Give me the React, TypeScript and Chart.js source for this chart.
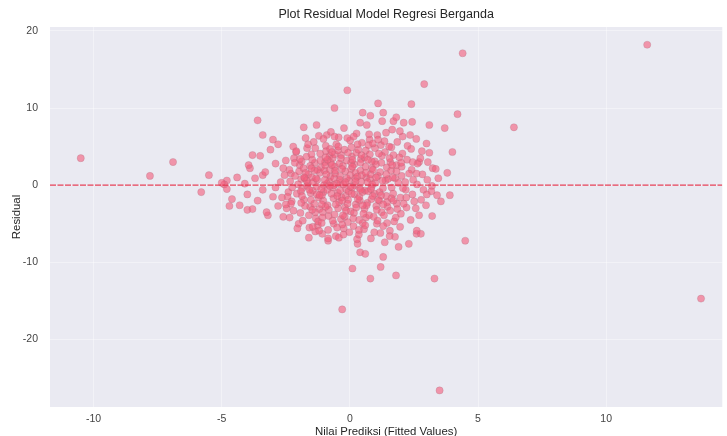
import { useEffect, useRef } from 'react';
import { Chart, registerables } from 'chart.js';

Chart.register(...registerables);

const chartTitle = 'Plot Residual Model Regresi Berganda';
const xAxisTitle = 'Nilai Prediksi (Fitted Values)';
const yAxisTitle = 'Residual';
const xTickValues = [-10, -5, 0, 5, 10];
const yTickValues = [-20, -10, 0, 10, 20];
const xRange = [-11.7, 14.53];
const yRange = [-28.75, 20.5];
const referenceLevel = 0;

const fittedValues: number[] = [
  -10.5, -7.8, -6.9, -5.8, -5.5, -4.8, -4.7, 11.6, 13.7, 6.4,
  4.4, 4.5, 3.3, 3.5, -0.3, 2.9, -0.1, 4.2, -3.6, 2.4,
  1.1, -0.6, -1.8, -1.3, 3.7, 3.1, 3.1, 4.0, 3.8, 3.2,
  3.4, 3.9, 2.7, 0.4, 0.1, 1.2, 0.8, 1.8, 1.9, 2.3,
  0.6, 1.3, 2.6, -3.4, -0.9, -3.8, -3.9, -3.4, -4.9, 1.3,
  0.5, 0.4, 1.7, 2.1, 2.7, -4.0, -3.2, -0.85, 0.3, -1.6,
  -5.0, -4.8, -4.6, -4.4, -4.3, -4.1, -4.0, -3.95, -3.8, -3.7,
  -3.6, -3.5, -3.4, -3.3, -3.25, -3.1, -3.0, -2.9, -2.8, -2.7,
  -3.0, -2.8, -2.6, -2.5, -2.4, -2.3, -2.2, -2.1, -2.0, -1.9,
  -2.43, -2.36, -2.47, -2.33, -2.18, -2.25, -2.14, -2.27, -2.21, -1.96,
  -2.07, -2.02, -1.93, -2.09, -1.98, -1.84, -1.76, -1.88, -1.79, -1.73,
  -1.86, -1.81, -1.62, -1.55, -1.67, -1.58, -1.64, -1.53, -1.69, -1.60,
  -1.37, -1.45, -1.41, -1.33, -1.48, -1.39, -1.43, -1.35, -1.47, -1.22,
  -1.16, -1.27, -1.19, -1.13, -1.25, -1.21, -1.29, -1.17, -1.24, -0.97,
  -1.04, -1.01, -0.94, -1.08, -0.99, -1.06, -0.93, -1.03, -0.96, -1.09,
  -0.83, -0.76, -0.79, -0.87, -0.81, -0.74, -0.85, -0.78, -0.88, -0.77,
  -0.82, -0.58, -0.64, -0.61, -0.55, -0.67, -0.60, -0.53, -0.66, -0.57,
  -0.63, -0.59, -0.42, -0.37, -0.44, -0.35, -0.41, -0.47, -0.38, -0.43,
  -0.34, -0.46, -0.39, -0.18, -0.24, -0.21, -0.15, -0.27, -0.19, -0.23,
  -0.16, -0.26, -0.20, -0.13, 0.03, -0.04, 0.01, -0.07, 0.05, -0.02,
  0.08, -0.05, 0.02, -0.08, 0.06, 0.17, 0.23, 0.19, 0.26, 0.14,
  0.22, 0.18, 0.25, 0.16, 0.21, 0.28, 0.38, 0.43, 0.36, 0.41,
  0.47, 0.39, 0.44, 0.35, 0.42, 0.37, 0.62, 0.57, 0.64, 0.59,
  0.66, 0.55, 0.61, 0.68, 0.58, 0.63, 0.79, 0.84, 0.77, 0.82,
  0.86, 0.75, 0.81, 0.78, 0.85, 0.80, 1.03, 0.97, 1.05, 0.99,
  1.07, 0.96, 1.02, 1.08, 0.98, 1.18, 1.24, 1.21, 1.16, 1.26,
  1.19, 1.23, 1.15, 1.42, 1.37, 1.45, 1.39, 1.44, 1.36, 1.41,
  1.47, 1.58, 1.63, 1.56, 1.61, 1.65, 1.57, 1.62, 1.83, 1.77,
  1.85, 1.79, 1.82, 1.76, 1.81, 2.02, 1.97, 2.05, 1.99, 2.06,
  1.96, 2.18, 2.23, 2.21, 2.16, 2.25, 2.41, 2.37, 2.44, 2.39,
  2.43, 2.62, 2.57, 2.64, 2.59, 2.61, 2.78, 2.83, 2.81, 2.77,
  3.02, 2.97, 3.04, 2.99, 3.18, 3.23, 3.21, 3.35, 3.55, 3.45,
  -1.91, -1.72, -1.52, -1.32, -1.12, -0.92, -0.72, -0.52, -0.32, -0.12,
  0.09, 0.29, 0.49, 0.69, 0.89, 1.09, 1.29, 1.49, 1.69, 1.89,
  -1.95, -1.75, -1.55, -1.35, -1.15, -0.95, -0.75, -0.55, -0.35, -0.15,
  0.05, 0.25, 0.45, 0.65, 0.85, 1.05, 1.25, 1.45, 1.65, 1.85,
  -1.87, -1.67, -1.47, -1.27, -1.07, -0.87, -0.67, -0.47, -0.27, -0.07,
  0.13, 0.33, 0.53, 0.73, 0.93, 1.13, 1.33, 1.53, 1.73, 1.93,
  -2.55, -2.65, -2.35, -2.05, -1.45, -0.85, -0.25, 0.35, 0.95, 1.55,
  -2.15, -1.63, -1.03, -0.45, 0.15, 0.75, 1.35, 1.95, 2.35, 2.75,
  -0.09, 0.31, 0.71, 1.11, -0.49, -0.89, -1.29, -1.69, 2.31, 2.51,
  -0.63, -0.31, 0.07, 0.47, 0.87, 1.27, 1.67, 2.07, 2.47, 2.87,
  -1.78, -1.58, -1.38, -1.18, -0.98, -0.78, -0.58, -0.38, -0.18, 0.02,
  0.22, 0.42, 0.62, 0.82, 1.02, 1.22, 1.42, 1.62, 1.82, 2.02,
  -1.5, -1.1, -0.7, -0.3, 0.1, 0.5, 0.9, 1.3, 1.7, 2.1,
  -2.6, -2.3, -1.9, -1.5, -1.1, -0.7, -0.3, 0.1, 0.5, 0.9,
  1.3, 1.7, 2.2, 2.6, 3.0, -2.9, -2.5, -1.2, -0.5, 0.6,
  -1.35, -0.95, -0.6, -0.1, 0.3, 0.7, 1.1, 1.55, 2.0, 2.45,
];

const residuals: number[] = [
  3.5, 1.2, 3.0, -0.9, 1.3, 0.6, -2.7, 18.2, -14.7, 7.5,
  17.1, -7.2, -12.1, -26.6, -16.1, 13.1, 12.3, 9.2, 8.4, 10.5,
  10.6, 10.0, 7.5, 7.8, 7.4, 7.8, 4.2, 4.3, 1.6, -0.1,
  -1.3, -1.3, -3.9, -8.7, -10.8, -10.6, -12.1, -11.7, -8.0, -7.6,
  -8.9, -9.3, -6.3, 6.5, 6.5, 3.9, 2.2, 1.3, 0.1, 9.4,
  9.4, 8.1, 8.3, 8.1, 3.0, -3.2, -3.9, -7.2, -7.6, -6.8,
  0.3, -0.5, -1.8, 1.0, -2.6, 0.2, -1.2, 2.6, -3.1, 0.9,
  -2.0, 3.8, -0.6, 1.7, -3.5, 4.6, -1.5, 2.8, -2.7, 0.4,
  5.9, 5.3, -4.1, 3.2, -0.9, 1.5, -3.3, 4.3, -5.0, 0.8,
  -1.5, 2.0, -3.0, 0.5, 3.5, -0.3, 1.2, -2.1, 5.0, 2.6,
  -1.1, 0.1, -3.6, 4.4, 1.8, -4.6, 0.9, 3.1, -1.9, 6.1,
  -0.4, 2.2, 1.4, -2.8, 4.8, -5.5, 0.2, -1.0, 3.7, -3.9,
  2.9, -0.7, 5.6, -4.3, 1.0, -2.4, 0.4, -6.0, 3.3, -1.6,
  4.1, 0.7, -3.1, 2.3, -5.2, 6.4, -0.2, 1.6, -4.7, 3.0,
  -2.0, 0.0, 5.1, -6.3, 1.9, -3.5, 4.4, -0.9, 2.6, -1.3,
  -4.0, 1.1, 3.8, -2.6, 0.5, 6.9, -5.8, 2.0, -0.6, 4.7,
  -3.2, 2.4, -1.7, 0.9, -6.6, 3.5, -3.8, 5.3, -0.3, 1.5,
  -5.0, 4.0, -2.2, 0.3, 6.2, -4.4, 2.8, -1.0, 1.2, -6.8,
  3.9, -3.0, 0.7, 1.8, -5.6, 4.6, -0.5, 2.5, -2.9, 7.4,
  -1.4, 0.1, -4.1, 3.2, -3.4, 0.6, 5.8, -1.9, 2.1, -6.1,
  3.7, -0.8, 1.3, -4.8, 4.9, 2.7, -2.5, 0.0, 6.7, -5.3,
  1.6, -1.2, 4.2, -3.6, 0.9, -7.0, -0.4, 3.4, -4.5, 1.9,
  5.5, -2.0, 0.5, -6.4, 2.9, -1.5, 4.5, -3.1, 1.0, -0.7,
  7.8, -5.7, 2.4, -2.3, 3.6, -4.2, 0.8, -1.8, 5.9, -6.9,
  2.2, -3.9, 1.4, 4.0, -0.2, 9.0, -2.7, 3.1, -5.0, 0.3,
  6.5, -1.1, 2.7, -4.6, 4.8, 1.7, -3.5, 5.2, -0.9, 8.3,
  -6.2, 2.9, -2.0, -1.4, 4.3, -4.9, 0.6, 2.3, -7.4, 6.8,
  -2.8, 3.0, -0.3, -5.9, 1.9, 7.2, -3.3, 4.9, -2.4, 0.9,
  5.6, -4.2, 2.6, -6.7, 8.8, 1.2, -1.6, 4.1, -3.7, 6.3,
  -5.4, -0.6, 3.3, -2.9, 0.4, 5.1, 2.0, -4.5, -1.2, 4.7,
  8.2, 0.1, -3.0, 2.8, 6.0, -5.9, -1.9, 1.4, 4.4, -6.3,
  0.7, -2.6, 3.0, 5.4, -0.8, 2.2, -4.0, 2.1, -2.1, 0.9,
  -0.8, 1.6, -1.9, 0.9, -0.5, 1.4, -1.1, 0.2, -1.6, 0.9,
  -0.3, 1.1, -0.9, 0.4, -1.4, 1.2, -0.4, 0.8, -1.1, 0.3,
  3.4, -2.7, 2.5, -3.5, 3.2, -2.8, 2.9, -2.5, 3.5, -3.3,
  2.9, -2.9, 3.9, -2.6, 3.1, -3.2, 3.8, -2.2, 2.6, -3.1,
  -1.4, -0.1, -3.2, 2.0, -4.2, 3.3, -4.6, 4.5, -3.9, 4.2,
  -4.3, 4.6, -3.7, 5.2, -4.1, 4.1, -3.9, 5.0, -4.7, 3.6,
  1.3, -1.6, -4.2, -5.6, -5.4, -6.9, -6.4, -5.8, -6.1, -6.6,
  2.9, 5.3, 6.0, 5.0, 6.3, 6.6, 5.7, 7.0, 6.5, 3.5,
  -2.4, -1.8, -0.8, -1.9, -1.4, 0.2, -1.2, 0.6, 1.5, -2.1,
  0.0, 2.1, -1.1, 1.3, 0.1, 0.6, 1.0, -0.4, 0.7, -0.6,
  1.0, -0.6, 1.9, -1.3, 0.7, -0.1, 1.9, -0.7, 0.4, -0.2,
  0.5, -0.6, 1.6, -0.5, 1.0, -1.3, 1.4, -1.7, 1.8, 2.4,
  4.0, -4.9, 4.3, -5.1, 3.3, -4.9, 5.4, -5.3, 3.9, -2.4,
  2.2, -2.4, -2.3, 2.2, -2.5, 2.6, -2.0, 2.4, -2.6, 2.0,
  -2.5, -2.0, -1.6, 1.5, -1.2, -0.3, -2.5, -5.9, -5.5, -5.2,
  4.8, 3.6, 6.3, 6.1, 5.3, 3.3, 5.9, 3.5, 2.9, 3.0,
];

const FONT = '"Liberation Sans", Arial, sans-serif';

export default function App() {
  const canvasRef = useRef<HTMLCanvasElement>(null);

  useEffect(() => {
    const canvas = canvasRef.current;
    if (!canvas) return;

    const backgroundPlugin = {
      id: 'plotBackground',
      beforeDraw(chart: any) {
        const { ctx, chartArea: a } = chart;
        ctx.save();
        ctx.fillStyle = '#EAEAF2';
        ctx.fillRect(a.left, a.top, a.right - a.left, a.bottom - a.top);
        ctx.restore();
      },
    };

    const titlePlugin = {
      id: 'centeredTitle',
      afterDraw(chart: any) {
        const { ctx, chartArea: a } = chart;
        ctx.save();
        ctx.font = `12.5px ${FONT}`;
        ctx.fillStyle = '#262626';
        ctx.textAlign = 'center';
        ctx.textBaseline = 'middle';
        ctx.fillText(chartTitle, (a.left + a.right) / 2, 15);
        ctx.restore();
      },
    };

    const points = fittedValues.map((x, i) => ({ x, y: residuals[i] }));

    const chart = new Chart(canvas, {
      type: 'scatter',
      data: {
        datasets: [
          {
            type: 'line',
            label: 'zero',
            data: [
              { x: xRange[0], y: referenceLevel },
              { x: xRange[1], y: referenceLevel },
            ],
            borderColor: 'rgba(228,45,70,0.9)',
            borderWidth: 1.1,
            borderDash: [6, 1.5],
            pointRadius: 0,
            order: 0,
          } as any,
          {
            label: 'Residual',
            data: points,
            backgroundColor: 'rgba(243,96,126,0.62)',
            borderColor: 'rgba(160,105,122,0.35)',
            borderWidth: 0.7,
            pointRadius: 3.6,
            order: 1,
          },
        ],
      },
      options: {
        animation: false,
        responsive: false,
        maintainAspectRatio: false,
        layout: { padding: { top: 27, right: 0, bottom: 0, left: 0 } },
        plugins: {
          legend: { display: false },
          title: { display: false },
          tooltip: { enabled: false },
        },
        scales: {
          x: {
            type: 'linear',
            min: xRange[0],
            max: xRange[1],
            afterBuildTicks: (scale: any) => {
              scale.ticks = xTickValues.map((v) => ({ value: v }));
            },
            afterFit: (scale: any) => {
              scale.height = 29;
            },
            grid: { color: 'rgba(255,255,255,0.4)', lineWidth: 1, drawTicks: false },
            border: { display: false },
            ticks: {
              padding: 6,
              color: '#444',
              font: { family: FONT, size: 10.5 },
              maxRotation: 0,
            },
            title: {
              display: true,
              text: xAxisTitle,
              color: '#262626',
              font: { family: FONT, size: 11.4 },
              padding: { top: 0, bottom: -3 },
            },
          },
          y: {
            type: 'linear',
            min: yRange[0],
            max: yRange[1],
            afterBuildTicks: (scale: any) => {
              scale.ticks = yTickValues.map((v) => ({ value: v }));
            },
            afterFit: (scale: any) => {
              scale.width = 50;
            },
            grid: { color: 'rgba(255,255,255,0.4)', lineWidth: 1, drawTicks: false },
            border: { display: false },
            ticks: {
              padding: 12,
              color: '#444',
              font: { family: FONT, size: 10.5 },
            },
            title: {
              display: true,
              text: yAxisTitle,
              color: '#262626',
              font: { family: FONT, size: 11.4 },
              padding: { top: 10, bottom: 0 },
            },
          },
        },
      },
      plugins: [backgroundPlugin, titlePlugin],
    });

    return () => {
      chart.destroy();
    };
  }, []);

  return (
    <div style={{ position: 'absolute', left: 0, top: 0, width: 727, height: 436 }}>
      <canvas ref={canvasRef} width={727} height={436} style={{ width: 727, height: 436 }} />
    </div>
  );
}
